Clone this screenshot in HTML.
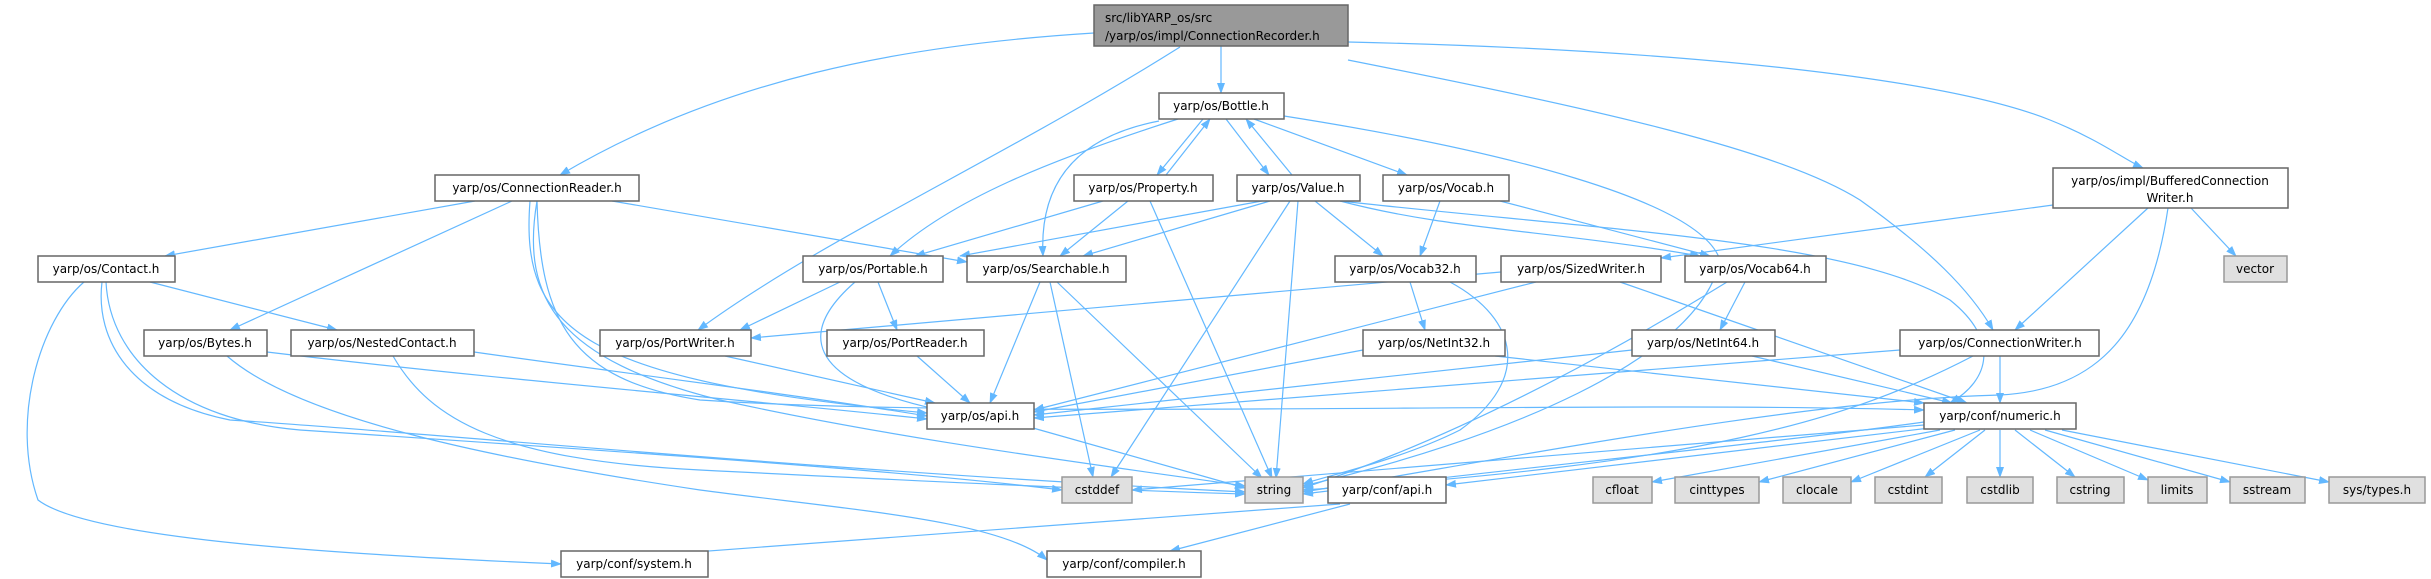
<!DOCTYPE html>
<html><head><meta charset="utf-8"><style>
html,body{margin:0;padding:0;background:#fff;}
svg{display:block;}
text{font-family:"DejaVu Sans","Liberation Sans",sans-serif;font-size:12px;fill:#000;}
.n{fill:#fff;stroke:#666;stroke-width:1.5;}
.g{fill:#e0e0e0;stroke:#999;stroke-width:1.5;}
.r{fill:#999;stroke:#666;stroke-width:1.5;}
.e{fill:none;stroke:#63b8ff;stroke-width:1.2;}
</style></head><body>
<svg width="2431" height="579" viewBox="0 0 2431 579" xmlns="http://www.w3.org/2000/svg">
<defs><marker id="a" markerWidth="11" markerHeight="8" refX="10" refY="4" orient="auto" markerUnits="userSpaceOnUse"><path d="M0,0 L11,4 L0,8 z" fill="#63b8ff"/></marker></defs>
<g class="e" marker-end="url(#a)">
<!-- Recorder -->
<path d="M1094,33 C900,45 720,80 560,175"/>
<path d="M1180,47 C1000,160 820,240 698,330"/>
<path d="M1221,46 L1221,93"/>
<path d="M1348,60 C1600,110 1780,150 1860,200 C1930,250 1970,290 1993,330"/>
<path d="M1348,42 C1700,50 1950,80 2050,120 C2100,140 2125,160 2143,168"/>
<!-- ConnectionReader -->
<path d="M475,201 L165,256"/>
<path d="M512,201 L230,330"/>
<path d="M612,201 L967,262"/>
<path d="M537,201 C520,300 560,360 720,400 C900,440 1100,465 1245,486"/>
<path d="M537,201 C540,320 570,380 700,400 C1000,420 1600,400 1924,410"/>
<path d="M530,201 C520,330 580,380 927,413"/>
<!-- Contact -->
<path d="M150,282 L337,330"/>
<path d="M84,282 C40,320 10,420 38,500 C90,540 350,555 561,564"/>
<path d="M102,282 C95,340 130,400 230,420 C400,430 800,470 1245,492"/>
<path d="M106,282 C110,360 180,420 300,430 C600,450 900,470 1062,490"/>
<!-- Bytes / Nested -->
<path d="M267,352 C500,380 750,400 927,419"/>
<path d="M227,356 C300,420 500,460 700,490 C850,510 1000,520 1047,560"/>
<path d="M474,352 C600,370 800,395 927,416"/>
<path d="M393,356 C430,420 500,460 700,470 C900,480 1100,490 1245,494"/>
<!-- PortWriter -->
<path d="M725,356 L935,403"/>
<!-- Bottle -->
<path d="M1203,119 L1157,175"/>
<path d="M1166,175 L1210,119"/>
<path d="M1226,119 L1269,175"/>
<path d="M1292,175 L1246,119"/>
<path d="M1254,119 L1407,175"/>
<path d="M1178,119 C1050,160 950,200 890,256"/>
<path d="M1159,121 C1060,140 1040,200 1043,256"/>
<path d="M1284,116 C1500,150 1700,200 1720,260 C1700,360 1500,440 1303,486"/>
<!-- Property -->
<path d="M1103,201 L915,256"/>
<path d="M1128,201 L1060,256"/>
<path d="M1150,201 L1272,478"/>
<!-- Value -->
<path d="M1262,201 L960,256"/>
<path d="M1270,201 L1083,256"/>
<path d="M1315,201 L1383,256"/>
<path d="M1340,201 C1450,230 1550,230 1700,256"/>
<path d="M1340,201 C1600,230 1850,240 1950,300 C2000,340 1990,380 1950,403"/>
<path d="M1290,201 L1111,477"/>
<path d="M1298,201 L1276,478"/>
<!-- Vocab -->
<path d="M1440,201 L1420,256"/>
<path d="M1500,201 L1710,256"/>
<!-- Portable -->
<path d="M840,282 L740,330"/>
<path d="M878,282 L897,330"/>
<path d="M855,282 C800,330 800,380 940,410"/>
<!-- Searchable -->
<path d="M1040,282 L990,403"/>
<path d="M1050,282 L1093,477"/>
<path d="M1057,282 L1262,478"/>
<!-- Vocab32 / 64 -->
<path d="M1410,282 L1425,330"/>
<path d="M1450,282 C1520,320 1530,380 1460,430 C1400,460 1330,475 1303,484"/>
<path d="M1745,282 L1720,330"/>
<path d="M1727,282 C1600,360 1450,440 1303,488"/>
<!-- SizedWriter -->
<path d="M1501,272 L751,338"/>
<path d="M1536,282 L1034,410"/>
<path d="M1620,282 L1967,403"/>
<!-- PortReader / NetInt -->
<path d="M917,356 L970,403"/>
<path d="M1363,350 L1034,412"/>
<path d="M1495,356 L1924,403"/>
<path d="M1632,350 L1034,415"/>
<path d="M1752,356 L1952,403"/>
<!-- ConnectionWriter -->
<path d="M1900,350 L1034,418"/>
<path d="M2000,356 L2000,403"/>
<path d="M1973,356 C1850,420 1700,465 1303,490"/>
<!-- BCW -->
<path d="M2053,205 L1661,258"/>
<path d="M2148,208 L2015,330"/>
<path d="M2191,208 L2236,256"/>
<path d="M2168,208 C2150,330 2100,390 2000,395 C1800,400 1500,460 1303,492"/>
<!-- os/api -->
<path d="M1033,428 L1245,488"/>
<!-- numeric -->
<path d="M1924,425 L1132,490"/>
<path d="M1924,422 C1800,440 1500,470 1303,494"/>
<path d="M1930,428 L1446,485"/>
<path d="M1940,430 L1652,482"/>
<path d="M1955,430 L1759,482"/>
<path d="M1980,430 L1851,482"/>
<path d="M1985,430 L1925,477"/>
<path d="M2000,430 L2000,477"/>
<path d="M2015,430 L2075,477"/>
<path d="M2030,430 L2148,480"/>
<path d="M2045,430 L2230,482"/>
<path d="M2062,430 L2329,482"/>
<!-- conf/api -->
<path d="M1340,504 L561,562"/>
<path d="M1350,504 L1170,551"/>
</g>
<!-- nodes -->
<rect class="r" x="1094" y="5" width="254" height="41"/>
<text x="1105" y="22">src/libYARP_os/src</text><text x="1105" y="40">/yarp/os/impl/ConnectionRecorder.h</text>
<g>
<rect class="n" x="1159" y="93" width="125" height="26"/><text x="1221" y="110" text-anchor="middle">yarp/os/Bottle.h</text>
<rect class="n" x="435" y="175" width="204" height="26"/><text x="537" y="192" text-anchor="middle">yarp/os/ConnectionReader.h</text>
<rect class="n" x="1074" y="175" width="139" height="26"/><text x="1143" y="192" text-anchor="middle">yarp/os/Property.h</text>
<rect class="n" x="1237" y="175" width="123" height="26"/><text x="1298" y="192" text-anchor="middle">yarp/os/Value.h</text>
<rect class="n" x="1383" y="175" width="126" height="26"/><text x="1446" y="192" text-anchor="middle">yarp/os/Vocab.h</text>
<rect class="n" x="2053" y="168" width="235" height="40"/><text x="2170" y="185" text-anchor="middle">yarp/os/impl/BufferedConnection</text><text x="2170" y="202" text-anchor="middle">Writer.h</text>
<rect class="n" x="38" y="256" width="137" height="26"/><text x="106" y="273" text-anchor="middle">yarp/os/Contact.h</text>
<rect class="n" x="803" y="256" width="140" height="26"/><text x="873" y="273" text-anchor="middle">yarp/os/Portable.h</text>
<rect class="n" x="967" y="256" width="159" height="26"/><text x="1046" y="273" text-anchor="middle">yarp/os/Searchable.h</text>
<rect class="n" x="1335" y="256" width="141" height="26"/><text x="1405" y="273" text-anchor="middle">yarp/os/Vocab32.h</text>
<rect class="n" x="1501" y="256" width="160" height="26"/><text x="1581" y="273" text-anchor="middle">yarp/os/SizedWriter.h</text>
<rect class="n" x="1685" y="256" width="141" height="26"/><text x="1755" y="273" text-anchor="middle">yarp/os/Vocab64.h</text>
<rect class="g" x="2224" y="256" width="63" height="26"/><text x="2255" y="273" text-anchor="middle">vector</text>
<rect class="n" x="144" y="330" width="123" height="26"/><text x="205" y="347" text-anchor="middle">yarp/os/Bytes.h</text>
<rect class="n" x="291" y="330" width="183" height="26"/><text x="382" y="347" text-anchor="middle">yarp/os/NestedContact.h</text>
<rect class="n" x="600" y="330" width="151" height="26"/><text x="675" y="347" text-anchor="middle">yarp/os/PortWriter.h</text>
<rect class="n" x="827" y="330" width="157" height="26"/><text x="905" y="347" text-anchor="middle">yarp/os/PortReader.h</text>
<rect class="n" x="1363" y="330" width="142" height="26"/><text x="1434" y="347" text-anchor="middle">yarp/os/NetInt32.h</text>
<rect class="n" x="1632" y="330" width="143" height="26"/><text x="1703" y="347" text-anchor="middle">yarp/os/NetInt64.h</text>
<rect class="n" x="1900" y="330" width="199" height="26"/><text x="2000" y="347" text-anchor="middle">yarp/os/ConnectionWriter.h</text>
<rect class="n" x="927" y="403" width="107" height="26"/><text x="980" y="420" text-anchor="middle">yarp/os/api.h</text>
<rect class="n" x="1924" y="403" width="152" height="26"/><text x="2000" y="420" text-anchor="middle">yarp/conf/numeric.h</text>
<rect class="g" x="1062" y="477" width="70" height="26"/><text x="1097" y="494" text-anchor="middle">cstddef</text>
<rect class="g" x="1245" y="477" width="58" height="26"/><text x="1274" y="494" text-anchor="middle">string</text>
<rect class="n" x="1328" y="477" width="118" height="26"/><text x="1387" y="494" text-anchor="middle">yarp/conf/api.h</text>
<rect class="g" x="1593" y="477" width="59" height="26"/><text x="1622" y="494" text-anchor="middle">cfloat</text>
<rect class="g" x="1675" y="477" width="84" height="26"/><text x="1717" y="494" text-anchor="middle">cinttypes</text>
<rect class="g" x="1783" y="477" width="68" height="26"/><text x="1817" y="494" text-anchor="middle">clocale</text>
<rect class="g" x="1875" y="477" width="67" height="26"/><text x="1908" y="494" text-anchor="middle">cstdint</text>
<rect class="g" x="1967" y="477" width="66" height="26"/><text x="2000" y="494" text-anchor="middle">cstdlib</text>
<rect class="g" x="2057" y="477" width="67" height="26"/><text x="2090" y="494" text-anchor="middle">cstring</text>
<rect class="g" x="2148" y="477" width="59" height="26"/><text x="2177" y="494" text-anchor="middle">limits</text>
<rect class="g" x="2230" y="477" width="75" height="26"/><text x="2267" y="494" text-anchor="middle">sstream</text>
<rect class="g" x="2329" y="477" width="96" height="26"/><text x="2377" y="494" text-anchor="middle">sys/types.h</text>
<rect class="n" x="561" y="551" width="147" height="26"/><text x="634" y="568" text-anchor="middle">yarp/conf/system.h</text>
<rect class="n" x="1047" y="551" width="154" height="26"/><text x="1124" y="568" text-anchor="middle">yarp/conf/compiler.h</text>
</g>
</svg>
</body></html>
